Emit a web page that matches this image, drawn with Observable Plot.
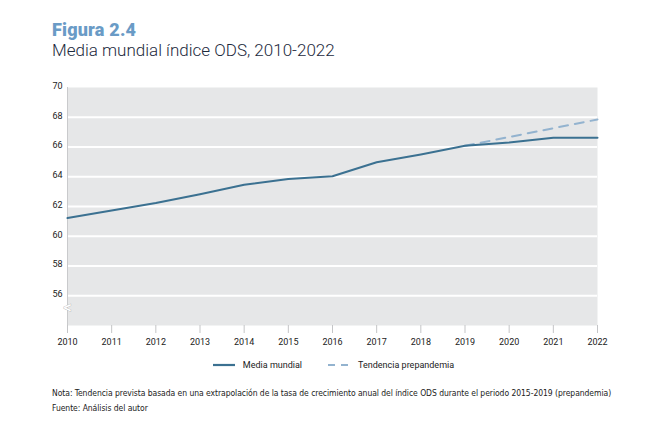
<!DOCTYPE html>
<html><head><meta charset="utf-8">
<script src="https://cdn.jsdelivr.net/npm/d3@7"></script>
<script src="https://cdn.jsdelivr.net/npm/@observablehq/plot@0.6"></script>
<style>
body{margin:0;background:#fff;font-family:Roboto,"Open Sans",sans-serif;width:667px;height:427px;overflow:hidden;position:relative}
#t1{position:absolute;left:52px;top:19px;font-size:18px;font-weight:900;color:#6a9bc6;letter-spacing:0.2px}
#t2{position:absolute;left:52px;top:40px;font-size:17px;font-weight:300;color:#1d2a3d}
#chart{position:absolute;left:0;top:75px}
#legend{position:absolute;top:360px;left:0;width:667px;font-size:9px;color:#222;display:flex;justify-content:center;gap:26px;align-items:center}
#legend span{display:flex;align-items:center;gap:8px}
#note{position:absolute;left:52px;top:386px;font-size:8.5px;color:#222;line-height:15px;font-family:"DejaVu Sans Condensed","Roboto",sans-serif;letter-spacing:-0.05px}
</style></head><body>
<div id="t1">Figura 2.4</div>
<div id="t2">Media mundial índice ODS, 2010-2022</div>
<div id="chart"></div>
<div id="legend"></div>
<div id="note">Nota: Tendencia prevista basada en una extrapolación de la tasa de crecimiento anual del índice ODS durante el periodo 2015-2019 (prepandemia)<br>Fuente: Análisis del autor</div>
<script>
const years = [2010,2011,2012,2013,2014,2015,2016,2017,2018,2019,2020,2021,2022];
const media = [61.22,61.73,62.23,62.83,63.46,63.85,64.03,64.97,65.5,66.08,66.3,66.62,66.62];
const trendYears = [2019,2020,2021,2022];
const trend = [66.08,66.67,67.26,67.85];
const yTicks = [56,58,60,62,64,66,68,70];
const gridY = [56,58,60,62,64,66,68];
const seriesNames = ["Media mundial","Tendencia prepandemia"];
const colors = ["#3b7191","#93b3cf"];

const mediaData = years.map((y,i)=>({year:y,value:media[i]}));
const trendData = trendYears.map((y,i)=>({year:y,value:trend[i]}));

const plot = Plot.plot({
  width:667, height:275,
  marginLeft:67, marginRight:70, marginTop:12, marginBottom:25,
  style:{fontFamily:"Roboto,sans-serif",fontSize:"9px",color:"#333"},
  x:{domain:[2010,2022], ticks:years, tickFormat:d=>String(d), label:null},
  y:{domain:[54,70], ticks:yTicks, label:null},
  marks:[
    Plot.frame({fill:"#e6e7e8",stroke:null}),
    Plot.ruleY(gridY,{stroke:"#fff",strokeWidth:2.2}),
    Plot.ruleX([2010],{stroke:"#c9cacc",strokeWidth:1}),
    Plot.text(["<"],{frameAnchor:"bottom-left",textAnchor:"middle",dy:-13,dx:0,fontSize:17,fill:"#fff",stroke:"#b5b6b8",strokeWidth:0.8}),
    Plot.axisX({ticks:years,tickFormat:d=>String(d),tickSize:8,tickPadding:5,stroke:"#c4c5c7",fill:"#222",label:null}),
    Plot.axisY({ticks:yTicks,tickSize:0,tickPadding:5,fill:"#222",label:null,dy:-1.5}),
    Plot.line(trendData,{x:"year",y:"value",stroke:colors[1],strokeWidth:2,strokeDasharray:"9,7"}),
    Plot.line(mediaData,{x:"year",y:"value",stroke:colors[0],strokeWidth:2})
  ]
});
document.getElementById("chart").appendChild(plot);

const lg = document.getElementById("legend");
seriesNames.forEach((n,i)=>{
  const s=document.createElement("span");
  s.innerHTML=`<svg width="22" height="4"><line x1="0" y1="2" x2="22" y2="2" stroke="${colors[i]}" stroke-width="2.2" ${i?'stroke-dasharray="7,6"':''}/></svg>${n}`;
  lg.appendChild(s);
});
</script>
</body></html>
